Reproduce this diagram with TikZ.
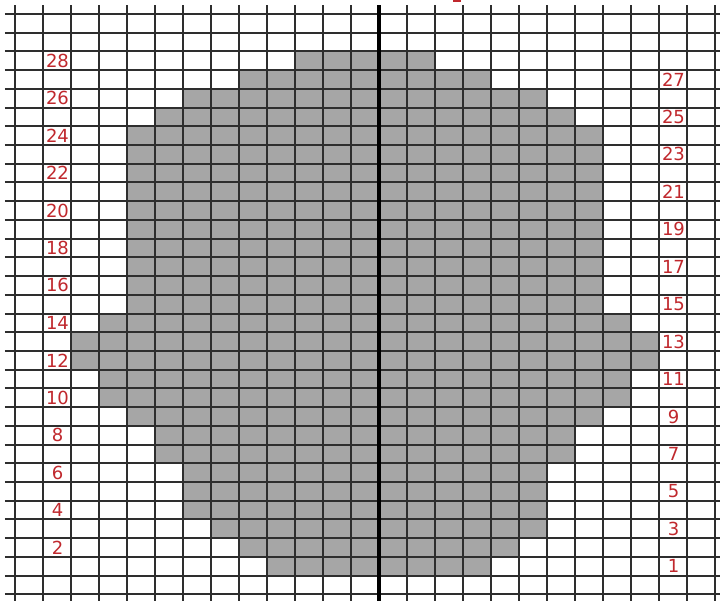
\documentclass[tikz,border=0pt]{standalone}
\usepackage{fontspec}
\setmainfont{DejaVu Sans}
\definecolor{labred}{HTML}{C0282D}
\definecolor{cellgray}{HTML}{A6A6A6}
\begin{document}
\begin{tikzpicture}[x=0.5pt,y=-0.5pt,
  gridline/.style={line width=1pt, draw=black!82},
  midline/.style={line width=1.6pt, draw=black},
  rowlabel/.style={text=labred, font=\fontsize{9}{10}\selectfont, inner sep=0pt, anchor=center}]
\useasboundingbox (0,0) rectangle (720,601);
\fill[white] (0,0) rectangle (720,601);
% shaded cells: row (from top) / first column / last column
\foreach \t/\a/\b in {2/10/14, 3/8/16, 4/6/18, 5/5/19,
  6/4/20, 7/4/20, 8/4/20, 9/4/20, 10/4/20, 11/4/20, 12/4/20, 13/4/20, 14/4/20, 15/4/20,
  16/3/21, 17/2/22, 18/2/22, 19/3/21, 20/3/21, 21/4/20, 22/5/19, 23/5/19,
  24/6/18, 25/6/18, 26/6/18, 27/7/18, 28/8/17, 29/9/16}
  \fill[cellgray] ({15+28*\a},{14+18.72*\t}) rectangle ({15+28*(\b+1)},{14+18.72*(\t+1)});
% grid
\foreach \k in {0,...,25}
  \draw[gridline] ({15+28*\k},5) -- ({15+28*\k},601);
\foreach \k in {0,...,31}
  \draw[gridline] (5,{14+18.72*\k}) -- (720,{14+18.72*\k});
% centre line
\coordinate (mtop) at (379,5);
\coordinate (mbot) at (379,601);
\draw[midline] (mtop) -- (mbot);
% row numbers
\foreach \n in {2,4,...,28}
  \node[rowlabel] (L\n) at (57.5,{14+18.72*(30.5-\n)}) {\n};
\foreach \n in {1,3,...,27}
  \node[rowlabel] (R\n) at (673.5,{14+18.72*(30.5-\n)}) {\n};
% cut-off mark at top edge
\fill[labred] (453,0) rectangle (461,2);
\end{tikzpicture}
\end{document}
